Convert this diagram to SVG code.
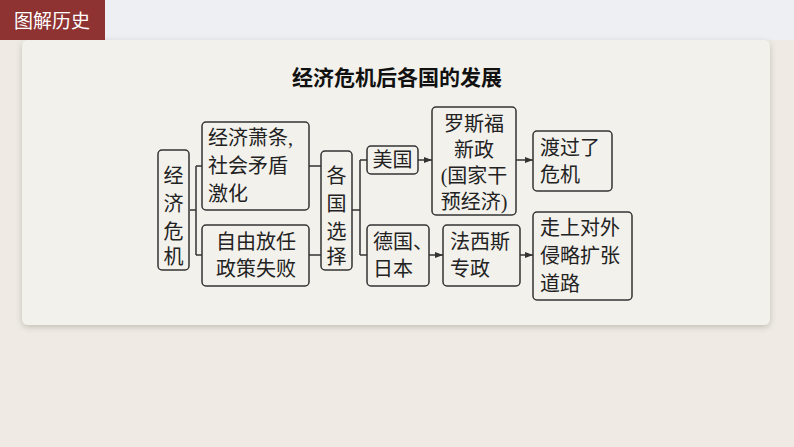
<svg xmlns="http://www.w3.org/2000/svg" width="794" height="447" viewBox="0 0 794 447">
<style>
.b{fill:none;stroke:#333;stroke-width:1.5}
.t{font-family:"Liberation Serif","Noto Sans CJK SC",serif;font-size:20px;fill:#222}
.c{fill:none;stroke:#333;stroke-width:1.5}
</style>
<defs><marker id="a" markerWidth="8" markerHeight="6" refX="8" refY="3" orient="auto" markerUnits="userSpaceOnUse"><path d="M0,0 L8,3 L0,6 Z" fill="#333"/></marker>
<filter id="s" x="-5%" y="-5%" width="110%" height="115%"><feDropShadow dx="0" dy="2" stdDeviation="3" flood-color="#000" flood-opacity="0.2"/></filter></defs>
<rect width="794" height="447" fill="#efebe4"/>
<rect width="794" height="40" fill="#eeeff2"/>
<rect x="22" y="40" width="748" height="285" rx="6" fill="#f3f1ec" filter="url(#s)"/>
<rect x="0" y="0" width="105" height="40" fill="#8e3232"/>
<text x="52" y="28" text-anchor="middle" font-family="Noto Sans CJK SC,sans-serif" font-size="19" fill="#fff">图解历史</text>
<text x="397" y="85" text-anchor="middle" font-family="Noto Sans CJK SC,sans-serif" font-size="21" font-weight="bold" fill="#111">经济危机后各国的发展</text>
<g id="connectors">
<path class="c" d="M190,210H196M196,166V255M196,166H202M196,255H202"/>
<path class="c" d="M309,166H321M309,255H321"/>
<path class="c" d="M352,210H360M360,160V255M360,160H367M360,255H367"/>
<path class="c" d="M418,160H432" marker-end="url(#a)"/>
<path class="c" d="M516,160H533" marker-end="url(#a)"/>
<path class="c" d="M429,255H443" marker-end="url(#a)"/>
<path class="c" d="M520,255H533" marker-end="url(#a)"/>
</g>
<g id="n1"><rect class="b" x="158" y="150" width="31" height="120" rx="4"/><text class="t" x="173.5" text-anchor="middle"><tspan x="173.5" y="183">经</tspan><tspan x="173.5" y="211">济</tspan><tspan x="173.5" y="239">危</tspan><tspan x="173.5" y="264">机</tspan></text></g>
<g id="n2"><rect class="b" x="202" y="122" width="107" height="88" rx="4"/><text class="t"><tspan x="208" y="145">经济萧条,</tspan><tspan x="208" y="173">社会矛盾</tspan><tspan x="208" y="201">激化</tspan></text></g>
<g id="n3"><rect class="b" x="202" y="225" width="107" height="61" rx="4"/><text class="t" text-anchor="middle"><tspan x="256" y="249">自由放任</tspan><tspan x="256" y="276">政策失败</tspan></text></g>
<g id="n4"><rect class="b" x="321" y="151" width="31" height="119" rx="4"/><text class="t" text-anchor="middle"><tspan x="336.5" y="183">各</tspan><tspan x="336.5" y="211">国</tspan><tspan x="336.5" y="239">选</tspan><tspan x="336.5" y="264">择</tspan></text></g>
<g id="n5"><rect class="b" x="367" y="146" width="51" height="28" rx="4"/><text class="t" x="392.5" y="167" text-anchor="middle">美国</text></g>
<g id="n6"><rect class="b" x="432" y="107" width="84" height="108" rx="4"/><text class="t" text-anchor="middle"><tspan x="474" y="131">罗斯福</tspan><tspan x="474" y="157">新政</tspan><tspan x="474" y="183">(国家干</tspan><tspan x="474" y="209">预经济)</tspan></text></g>
<g id="n7"><rect class="b" x="533" y="131" width="79" height="60" rx="4"/><text class="t"><tspan x="540" y="155">渡过了</tspan><tspan x="540" y="182">危机</tspan></text></g>
<g id="n8"><rect class="b" x="367" y="225" width="62" height="61" rx="4"/><text class="t"><tspan x="373" y="249">德国、</tspan><tspan x="373" y="276">日本</tspan></text></g>
<g id="n9"><rect class="b" x="443" y="225" width="77" height="61" rx="4"/><text class="t"><tspan x="450" y="249">法西斯</tspan><tspan x="450" y="276">专政</tspan></text></g>
<g id="n10"><rect class="b" x="533" y="212" width="99" height="88" rx="4"/><text class="t"><tspan x="540" y="235">走上对外</tspan><tspan x="540" y="263">侵略扩张</tspan><tspan x="540" y="291">道路</tspan></text></g>
</svg>
